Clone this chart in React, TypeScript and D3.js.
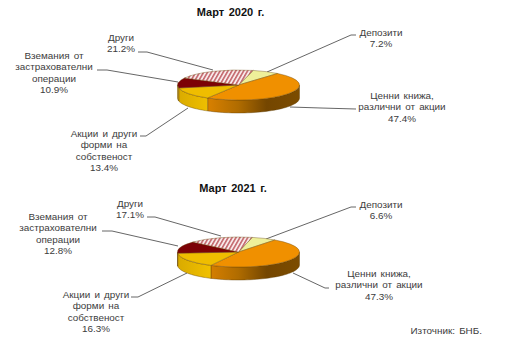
import React from "react";
import * as d3 from "d3";

const categories = ["Депозити", "Ценни книжа, различни от акции", "Акции и други форми на собственост", "Вземания от застрахователни операции", "Други"];
const values2020 = [7.2, 47.4, 13.4, 10.9, 21.2];
const values2021 = [6.6, 47.3, 16.3, 12.8, 17.1];
const topColors = ["#eef09a", "#f09000", "#efbd00", "#7c0206", "url(#hatch)"];
const wallColors = ["#d8d880", "url(#wallOrange)", "url(#wallYellow)", "#c89c00", "#d0a0a0"];
const W = 507, H = 364;

type Lbl = { lines: string[]; x: number; y: number; leader: [number, number][] };

const labels2020: Lbl[] = [
  { lines: ["Депозити", "7.2%"], x: 381, y: 36, leader: [[356, 35], [351, 35], [267, 72]] },
  { lines: ["Ценни книжа,", "различни от акции", "47.4%"], x: 402, y: 99, leader: [[356, 109], [321, 108], [290, 107]] },
  { lines: ["Акции и други", "форми на", "собственост", "13.4%"], x: 104, y: 137, leader: [[140, 136], [146, 136], [188, 108]] },
  { lines: ["Вземания от", "застрахователни", "операции", "10.9%"], x: 54, y: 59, leader: [[97, 70], [107, 70], [178, 82]] },
  { lines: ["Други", "21.2%"], x: 121, y: 41, leader: [[138, 52], [147, 52], [213, 70]] },
];
const labels2021: Lbl[] = [
  { lines: ["Депозити", "6.6%"], x: 381, y: 208, leader: [[356, 207], [351, 207], [266, 239]] },
  { lines: ["Ценни книжа,", "различни от акции", "47.3%"], x: 379, y: 277, leader: [[329, 288], [325, 288], [293, 273]] },
  { lines: ["Акции и други", "форми на", "собственост", "16.3%"], x: 96, y: 298, leader: [[131, 297], [138, 297], [187, 273]] },
  { lines: ["Вземания от", "застрахователни", "операции", "12.8%"], x: 58, y: 220, leader: [[102, 231], [112, 231], [178, 246]] },
  { lines: ["Други", "17.1%"], x: 130, y: 207, leader: [[147, 217], [155, 217], [221, 236]] },
];

const rx = 61, ry = 15, depth = 13, cx = 238.5;
const deg = Math.PI / 180;

function Pie3D({ values, cy, start, labels, title, titleX, titleY }: { values: number[]; cy: number; start: number; labels: Lbl[]; title: string; titleX: number; titleY: number }) {
  const pie = d3.pie<number>().sort(null).startAngle(start * deg).endAngle((start + 360) * deg);
  const arcs = pie(values);
  const arc = d3.arc<d3.PieArcDatum<number>>().innerRadius(0).outerRadius(rx);
  const pt = (a: number, dy = 0): [number, number] => [cx + rx * Math.sin(a), cy - ry * Math.cos(a) + dy];
  const line = d3.line();
  const walls = arcs.map((s, i) => {
    const out: { i: number; d: string }[] = [];
    for (const off of [0, 2 * Math.PI]) {
      const a0 = Math.max(s.startAngle - off, 90 * deg);
      const a1 = Math.min(s.endAngle - off, 270 * deg);
      if (a1 > a0) {
        const n = 40;
        const as = d3.range(n + 1).map((k) => a0 + ((a1 - a0) * k) / n);
        const pts = [...as.map((a) => pt(a)), ...as.slice().reverse().map((a) => pt(a, depth))];
        out.push({ i, d: line(pts)! + "Z" });
      }
    }
    return out;
  }).flat();
  return (
    <g>
      <text x={titleX} y={titleY} textAnchor="middle" fontWeight="bold" fontSize={11} fill="#111" style={{ wordSpacing: 1.5 }}>{title}</text>
      {labels.map((l, i) => (
        <polyline key={i} points={l.leader.map((p) => p.join(",")).join(" ")} fill="none" stroke="#555" strokeWidth={0.9} />
      ))}
      {walls.map((w, k) => (
        <path key={k} d={w.d} fill={wallColors[w.i]} stroke="#5a3a00" strokeWidth={0.4} />
      ))}
      <g transform={`translate(${cx},${cy}) scale(1,${ry / rx})`}>
        {arcs.map((s, i) => (
          <path key={i} d={arc(s)!} fill={topColors[i]} stroke="#6a4a10" strokeWidth={0.4} vectorEffect="non-scaling-stroke" />
        ))}
      </g>
      {labels.map((l, i) => (
        <text key={i} x={l.x} textAnchor="middle" fontSize={9.9} fill="#3c3c3c" style={{ wordSpacing: 1.4 }}>
          {l.lines.map((t, j) => (
            <tspan key={j} x={l.x} y={l.y + j * 11.3}>{t}</tspan>
          ))}
        </text>
      ))}
    </g>
  );
}

export default function App() {
  return (
    <svg width={W} height={H} viewBox={`0 0 ${W} ${H}`} style={{ position: "absolute", left: 0, top: 0, background: "#fff", fontFamily: "'Liberation Sans', Arial, sans-serif" }}>
      <defs>
        <pattern id="hatch" width="3.4" height="3.4" patternUnits="userSpaceOnUse" patternTransform={`scale(1,${rx / ry}) rotate(30)`}>
          <rect width="3.4" height="3.4" fill="#f8eaea" />
          <rect width="1.6" height="3.4" fill="#c4686e" />
        </pattern>
        <linearGradient id="wallOrange" gradientUnits="userSpaceOnUse" x1="205" x2="300" y1="0" y2="0">
          <stop offset="0" stopColor="#dc8200" />
          <stop offset="0.35" stopColor="#b06c00" />
          <stop offset="0.65" stopColor="#744600" />
          <stop offset="1" stopColor="#7c4c00" />
        </linearGradient>
        <linearGradient id="wallYellow" gradientUnits="userSpaceOnUse" x1="177" x2="210" y1="0" y2="0">
          <stop offset="0" stopColor="#d9aa00" />
          <stop offset="1" stopColor="#f0c000" />
        </linearGradient>
      </defs>
      <Pie3D values={values2020} cy={85} start={14} labels={labels2020} title="Март 2020 г." titleX={230.5} titleY={16} />
      <Pie3D values={values2021} cy={252} start={13} labels={labels2021} title="Март 2021 г." titleX={233} titleY={192} />
      <text x={410.5} y={334} fontSize={9.9} fill="#3c3c3c" style={{ wordSpacing: 1.4 }}>Източник: БНБ.</text>
    </svg>
  );
}
